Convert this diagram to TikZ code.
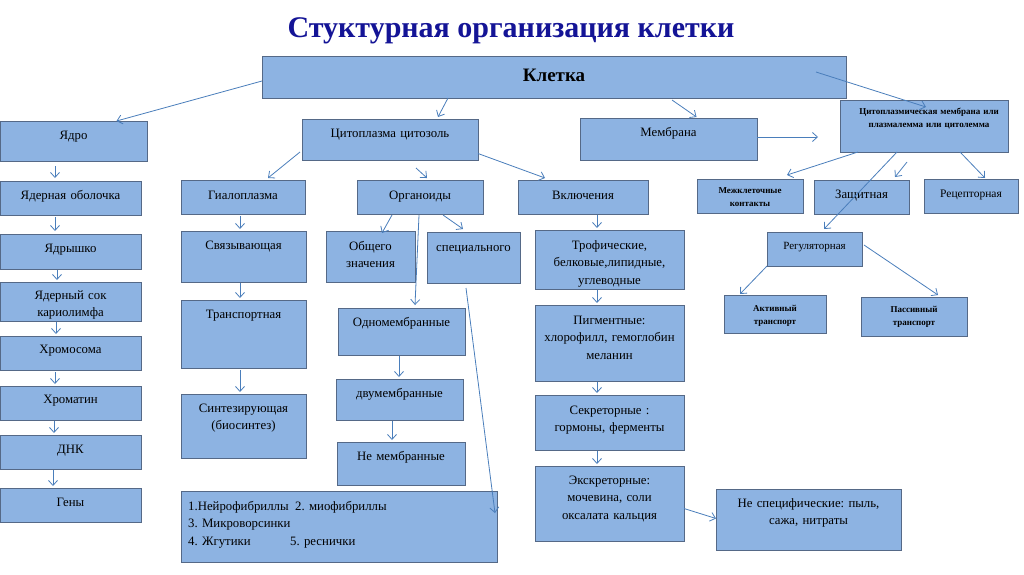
\documentclass[tikz,border=0pt]{standalone}
\usepackage{fontspec}
\setmainfont{Liberation Serif}
\usetikzlibrary{arrows.meta}
\usetikzlibrary{calc}

\definecolor{boxfill}{RGB}{141,179,226}
\definecolor{boxline}{RGB}{85,105,135}
\definecolor{arrowblue}{RGB}{74,126,187}
\definecolor{titleblue}{RGB}{20,20,150}

\begin{document}
\frenchspacing
\begin{tikzpicture}[
x=1pt, y=-1pt,
box/.style={
  rectangle,
  draw=boxline,
  fill=boxfill,
  line width=0.9pt,
  anchor=north west,
  inner sep=0pt,
  outer sep=0pt
},
txt/.style={
  anchor=base,
  yshift=#1,
  text width=200pt,
  align=center,
  inner sep=0pt,
  font=\fontsize{12.8}{17.5}\selectfont
},
txt/.default=-18pt,
small/.style={
  txt=#1,
  font=\bfseries\fontsize{9}{13}\selectfont
},
small/.default=-14pt,
title/.style={anchor=base, text=titleblue, font=\bfseries\fontsize{30}{34}\selectfont},
arr/.style={-{Straight Barb[length=5pt,width=9pt]}, line width=0.8pt, arrowblue}
]
\useasboundingbox (0,0) rectangle (1024,574);

% ---- title and top level ----
\node[title] (titel) at (511,37) {Стуктурная организация клетки};

\node[box, minimum width=584pt, minimum height=42pt] (kletka) at (262,56) {};
\node[txt=-25pt, font=\bfseries\fontsize{19}{22}\selectfont] (kletka-t) at (kletka.north) {Клетка};

\node[box, minimum width=147pt, minimum height=40pt] (yadro)  at (0,121)   {};
\node[box, minimum width=176pt, minimum height=41pt] (citopl) at (302,119) {};
\node[box, minimum width=177pt, minimum height=42pt] (membr)  at (580,118) {};
\node[box, minimum width=168pt, minimum height=52pt] (cpm)    at (840,100) {};
\node[txt] (yadro-t)  at (yadro.north)  {Ядро};
\node[txt] (citopl-t) at (citopl.north) {Цитоплазма цитозоль};
\node[txt] (membr-t)  at (membr.north)  {Мембрана};
\node[small, xshift=5pt] (cpm-t) at (cpm.north) {Цитоплазмическая мембрана или\\плазмалемма или цитолемма};

% ---- nucleus column ----
\node[box, minimum width=141pt, minimum height=34pt] (obol) at (0,181) {};
\node[box, minimum width=141pt, minimum height=35pt] (yadr) at (0,234) {};
\node[box, minimum width=141pt, minimum height=39pt] (sok)  at (0,282) {};
\node[box, minimum width=141pt, minimum height=34pt] (chrs) at (0,336) {};
\node[box, minimum width=141pt, minimum height=34pt] (chrt) at (0,386) {};
\node[box, minimum width=141pt, minimum height=34pt] (dnk)  at (0,435) {};
\node[box, minimum width=141pt, minimum height=34pt] (geny) at (0,488) {};
\node[txt] (obol-t) at (obol.north) {Ядерная оболочка};
\node[txt] (yadr-t) at (yadr.north) {Ядрышко};
\node[txt=-17pt] (sok-t) at (sok.north) {Ядерный сок\\кариолимфа};
\node[txt=-17pt] (chrs-t) at (chrs.north) {Хромосома};
\node[txt=-17pt] (chrt-t) at (chrt.north) {Хроматин};
\node[txt] (dnk-t)  at (dnk.north)  {ДНК};
\node[txt] (geny-t) at (geny.north) {Гены};

% ---- hyaloplasm column ----
\node[box, minimum width=124pt, minimum height=34pt] (gialo)  at (181,180) {};
\node[box, minimum width=125pt, minimum height=51pt] (svyaz)  at (181,231) {};
\node[box, minimum width=125pt, minimum height=68pt] (transp) at (181,300) {};
\node[box, minimum width=125pt, minimum height=64pt] (sintez) at (181,394) {};
\node[box, minimum width=316pt, minimum height=71pt] (spisok) at (181,491) {};
\node[txt=-19pt] (gialo-t) at (gialo.north) {Гиалоплазма};
\node[txt] (svyaz-t)  at (svyaz.north)  {Связывающая};
\node[txt] (transp-t) at (transp.north) {Транспортная};
\node[txt] (sintez-t) at (sintez.north) {Синтезирующая\\(биосинтез)};
\node[txt=-19pt, anchor=base west, align=left, xshift=7pt] (spisok-t) at (spisok.north west)
  {\makebox[107pt][l]{1.Нейрофибриллы}2. миофибриллы\\3. Микроворсинки\\\makebox[102pt][l]{4. Жгутики}5. реснички};

% ---- organoids ----
\node[box, minimum width=126pt, minimum height=34pt] (organ) at (357,180) {};
\node[box, minimum width=89pt,  minimum height=51pt] (obsch) at (326,231) {};
\node[box, minimum width=93pt,  minimum height=51pt] (spec)  at (427,232) {};
\node[box, minimum width=127pt, minimum height=47pt] (odnom) at (338,308) {};
\node[box, minimum width=127pt, minimum height=41pt] (dvum)  at (336,379) {};
\node[box, minimum width=128pt, minimum height=43pt] (nemem) at (337,442) {};
\node[txt=-19pt] (organ-t) at (organ.north) {Органоиды};
\node[txt=-19pt] (obsch-t) at (obsch.north) {Общего\\значения};
\node[txt=-19pt] (spec-t)  at (spec.north)  {специального};
\node[txt] (odnom-t) at (odnom.north) {Одномембранные};
\node[txt] (dvum-t)  at (dvum.north)  {двумембранные};
\node[txt] (nemem-t) at (nemem.north) {Не мембранные};

% ---- inclusions ----
\node[box, minimum width=130pt, minimum height=34pt] (vkl)    at (518,180) {};
\node[box, minimum width=149pt, minimum height=59pt] (trof)   at (535,230) {};
\node[box, minimum width=149pt, minimum height=76pt] (pigm)   at (535,305) {};
\node[box, minimum width=149pt, minimum height=55pt] (sekr)   at (535,395) {};
\node[box, minimum width=149pt, minimum height=75pt] (ekskr)  at (535,466) {};
\node[box, minimum width=185pt, minimum height=61pt] (nespec) at (716,489) {};
\node[txt=-19pt] (vkl-t)  at (vkl.north)  {Включения};
\node[txt=-19pt] (trof-t) at (trof.north) {Трофические,\\белковые,липидные,\\углеводные};
\node[txt=-19pt] (pigm-t) at (pigm.north) {Пигментные:\\хлорофилл, гемоглобин\\меланин};
\node[txt=-19pt] (sekr-t) at (sekr.north) {Секреторные :\\гормоны, ферменты};
\node[txt] (ekskr-t)  at (ekskr.north)  {Экскреторные:\\мочевина, соли\\оксалата кальция};
\node[txt] (nespec-t) at (nespec.north) {Не специфические: пыль,\\сажа, нитраты};

% ---- membrane ----
\node[box, minimum width=106pt, minimum height=34pt] (mezh)   at (697,179) {};
\node[box, minimum width=95pt,  minimum height=34pt] (zasch)  at (814,180) {};
\node[box, minimum width=94pt,  minimum height=34pt] (recep)  at (924,179) {};
\node[box, minimum width=95pt,  minimum height=34pt] (regul)  at (767,232) {};
\node[box, minimum width=102pt, minimum height=38pt] (aktiv)  at (724,295) {};
\node[box, minimum width=106pt, minimum height=39pt] (passiv) at (861,297) {};
\node[small] (mezh-t) at (mezh.north) {Межклеточные\\контакты};
\node[txt] (zasch-t) at (zasch.north) {Защитная};
\node[txt, font=\fontsize{11.5}{14}\selectfont] (recep-t) at (recep.north) {Рецепторная};
\node[txt=-17pt, font=\fontsize{11}{14}\selectfont] (regul-t) at (regul.north) {Регуляторная};
\node[small=-16pt] (aktiv-t)  at (aktiv.north)  {Активный\\транспорт};
\node[small=-15pt] (passiv-t) at (passiv.north) {Пассивный\\транспорт};

% ---- connectors ----
\draw[arr] ($(kletka.west)+(0,4)$) -- ($(yadro.north)+(43,0)$);
\draw[arr] ($(kletka.south)+(-106,0)$) -- ($(citopl.north)+(48,-2)$);
\draw[arr] ($(kletka.south)+(118,2)$) -- ($(membr.north)+(28,-1)$);
\draw[arr] ($(kletka.east)+(-30,-5)$) -- ($(cpm.north)+(2,7)$);
\draw[arr] ($(membr.east)+(0,-2)$) -- ($(cpm.west)+(-22,11)$);

\draw[arr] ($(citopl.south west)+(-2,-8)$) -- ($(gialo.north)+(25,-2)$);
\draw[arr] ($(citopl.south)+(26,8)$) -- ($(organ.north)+(7,-2)$);
\draw[arr] ($(citopl.east)+(0,14)$) -- ($(vkl.north)+(-38,-2)$);

\draw[arr] ($(yadro.south west)+(55,5)$) -- ($(obol.north west)+(55,-3)$);
\draw[arr] ($(obol.south west)+(55,2)$) -- ($(yadr.north west)+(55,-3)$);
\draw[arr] ($(yadr.south west)+(57,1)$) -- ($(sok.north west)+(57,-2)$);
\draw[arr] ($(sok.south west)+(56,1)$) -- ($(chrs.north west)+(56,-2)$);
\draw[arr] ($(chrs.south west)+(55,2)$) -- ($(chrt.north west)+(55,-2)$);
\draw[arr] ($(chrt.south west)+(54,1)$) -- ($(dnk.north west)+(54,-2)$);
\draw[arr] ($(dnk.south west)+(53,1)$) -- ($(geny.north west)+(53,-2)$);

\draw[arr] ($(gialo.south west)+(59,2)$) -- ($(svyaz.north west)+(59,-2)$);
\draw[arr] ($(svyaz.south west)+(59,1)$) -- ($(transp.north west)+(59,-2)$);
\draw[arr] ($(transp.south west)+(59,2)$) -- ($(sintez.north west)+(59,-2)$);

\draw[arr] ($(organ.south west)+(35,1)$) -- ($(obsch.north west)+(56,2)$);
\draw[arr] ($(organ.south west)+(62,1)$) -- ($(odnom.north west)+(77,-3)$);
\draw[arr] ($(organ.south west)+(86,1)$) -- ($(spec.north west)+(36,-3)$);
\draw[arr] ($(spec.south west)+(39,5)$) -- ($(spisok.north east)+(-2,22)$);
\draw[arr] ($(odnom.south west)+(61,1)$) -- ($(dvum.north west)+(63,-2)$);
\draw[arr] ($(dvum.south west)+(56,1)$) -- ($(nemem.north west)+(55,-2)$);

\draw[arr] ($(vkl.south west)+(79,1)$) -- ($(trof.north west)+(62,-2)$);
\draw[arr] ($(trof.south west)+(62,1)$) -- ($(pigm.north west)+(62,-2)$);
\draw[arr] ($(pigm.south west)+(62,1)$) -- ($(sekr.north west)+(62,-2)$);
\draw[arr] ($(sekr.south west)+(62,1)$) -- ($(ekskr.north west)+(62,-2)$);
\draw[arr] ($(ekskr.east)+(0,5)$) -- ($(nespec.west)+(0,-1)$);

\draw[arr] ($(cpm.south west)+(18,0)$) -- ($(mezh.north west)+(90,-4)$);
\draw[arr] ($(cpm.south west)+(67,10)$) -- ($(zasch.north west)+(81,-3)$);
\draw[arr] ($(cpm.south west)+(57,0)$) -- ($(regul.north west)+(57,-3)$);
\draw[arr] ($(cpm.south west)+(120,0)$) -- ($(recep.north west)+(61,-1)$);
\draw[arr] (regul.south west) -- ($(aktiv.north west)+(16,-1)$);
\draw[arr] ($(regul.north east)+(2,13)$) -- ($(passiv.north west)+(77,-2)$);

\end{tikzpicture}
\end{document}
